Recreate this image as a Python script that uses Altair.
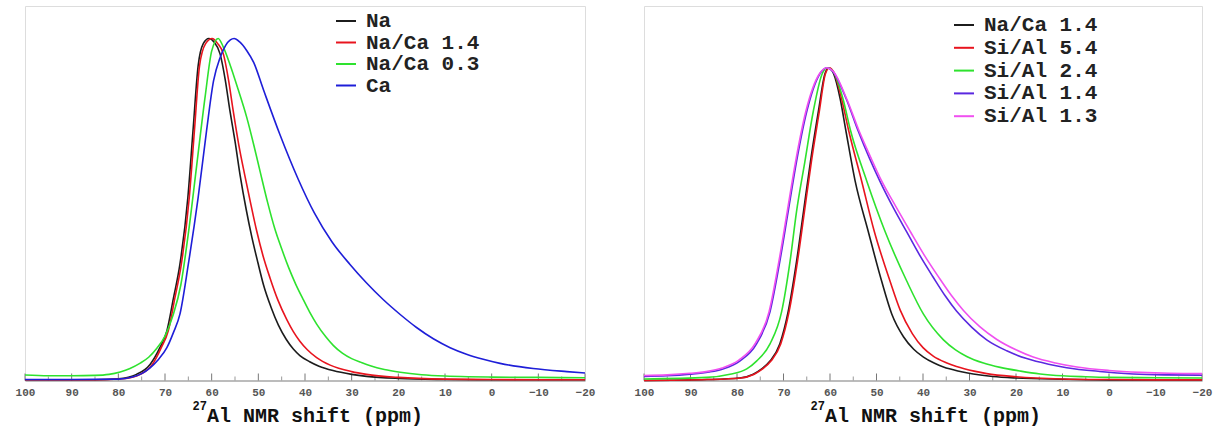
import altair as alt
import pandas as pd

# ---------------- data ----------------
left_names = ["Na", "Na/Ca 1.4", "Na/Ca 0.3", "Ca"]
left_colors = ["#1c1c1c", "#e8141e", "#2ee22e", "#1e1ed8"]

na_ppm = [100, 90, 85, 80, 76.1, 73.2, 71.1, 69.6, 68.2, 66.8, 65.1, 64.0, 62.9, 61.8, 60.6,
          59.5, 58.2, 57.1, 56.1, 55.0, 53.9, 52.6, 51.4, 50.1, 48.9, 47.3, 45.7, 44.0, 42.5, 41.1,
          39.0, 37.0, 34.0, 30, 26.8, 20, 10, 0, -10, -20]
na_int = [0.002, 0.002, 0.002, 0.005, 0.018, 0.047, 0.096, 0.145, 0.24, 0.34, 0.535, 0.73, 0.92, 0.985, 1.0,
          0.99, 0.955, 0.88, 0.79, 0.70, 0.6, 0.5, 0.42, 0.345, 0.28, 0.215, 0.162, 0.12, 0.092, 0.073,
          0.055, 0.042, 0.029, 0.018, 0.012, 0.006, 0.003, 0.002, 0.002, 0.002]

naca14_ppm = [100, 90, 85, 79, 75.3, 72.7, 70.8, 69.3, 67.9, 66.5, 64.8, 63.7, 62.6, 61.3, 59.9,
              58.7, 57.5, 56.4, 55.4, 54.2, 52.9, 51.6, 50.4, 49.0, 47.5, 45.8, 43.9, 42.5, 41.1,
              39.5, 37.5, 34.6, 30, 26.8, 20, 10, 0, -10, -20]
naca14_int = [0.002, 0.002, 0.002, 0.005, 0.018, 0.047, 0.096, 0.145, 0.24, 0.34, 0.535, 0.73, 0.92, 0.985, 1.0,
              0.985, 0.955, 0.88, 0.79, 0.69, 0.6, 0.515, 0.44, 0.365, 0.3, 0.235, 0.178, 0.143, 0.115,
              0.09, 0.067, 0.045, 0.026, 0.018, 0.009, 0.004, 0.003, 0.002, 0.002]

naca03_ppm = [100, 95, 90, 85, 82, 79.6, 77.5, 75.4, 73.5, 71.7, 70.0, 68.3, 66.6, 64.9, 63.2, 61.4, 60.0, 58.6,
              57.5, 56.1, 54.3, 52.5, 51.0, 49.6, 48.0, 46.5, 45.0, 43.5, 42.0, 40.5, 39.0, 37.5, 35.5,
              33.9, 32, 30, 28, 26, 23, 19.6, 15, 10, 5, 0, -10, -20]
naca03_int = [0.016, 0.014, 0.014, 0.015, 0.018, 0.025, 0.035, 0.05, 0.068, 0.095, 0.13, 0.19, 0.28, 0.44, 0.63, 0.83, 0.963, 1.0,
              0.975, 0.925, 0.85, 0.77, 0.69, 0.61, 0.52, 0.445, 0.385, 0.33, 0.282, 0.24, 0.2, 0.165, 0.127,
              0.102, 0.08, 0.064, 0.053, 0.043, 0.032, 0.024, 0.017, 0.013, 0.011, 0.01, 0.009, 0.008]

ca_ppm = [100, 90, 80, 77, 75, 73.2, 71.5, 69.6, 68.2, 66.8, 65.0, 62.9, 61.1, 59.6, 58.2, 57, 56, 55.2,
          54, 52.5, 51.0, 48.9, 45.4, 41.5, 38, 34.2, 30.4, 26.8, 23.2, 19.6, 16.1, 12.5, 8.9, 5.4, 1.8,
          -1.8, -8.9, -16.1, -20]
ca_int = [0.003, 0.003, 0.004, 0.01, 0.02, 0.037, 0.06, 0.096, 0.14, 0.194, 0.34, 0.535, 0.73, 0.876, 0.944, 0.98, 0.996, 1.0,
          0.99, 0.965, 0.93, 0.85, 0.72, 0.59, 0.49, 0.405, 0.34, 0.285, 0.236, 0.193, 0.155, 0.122, 0.096, 0.077, 0.062,
          0.05, 0.035, 0.026, 0.022]

right_names = ["Na/Ca 1.4", "Si/Al 5.4", "Si/Al 2.4", "Si/Al 1.4", "Si/Al 1.3"]
right_colors = ["#1c1c1c", "#e8141e", "#2ee22e", "#5a28e0", "#f050f0"]

r_naca14_ppm = [100, 86.5, 79.4, 76.5, 74.7, 72.9, 70.8, 69.0, 67.2, 65.7, 64.2, 62.5, 61.1, 60.3,
                59.2, 57.8, 56.6, 54.6, 51.8, 48.9, 46.7, 44.2, 42.0, 39.9, 37.5, 35.6, 32.0, 29.2, 25, 20,
                10, 0, -10, -20]
r_naca14_int = [0.0, 0.003, 0.008, 0.02, 0.037, 0.062, 0.117, 0.22, 0.38, 0.54, 0.70, 0.86, 0.98, 1.0,
                0.98, 0.9, 0.8, 0.638, 0.478, 0.318, 0.212, 0.14, 0.1, 0.075, 0.055, 0.043, 0.029, 0.021, 0.013, 0.008,
                0.004, 0.002, 0.002, 0.002]

sial54_ppm = [100, 86.3, 79.2, 76.3, 74.5, 72.7, 70.6, 68.8, 67.0, 65.5, 64.0, 62.3, 61.0, 60.1,
              59.0, 57.5, 56.0, 53.2, 50.5, 47.1, 44.9, 42.3, 40.0, 37.8, 35.0, 32.8, 29.0, 26.3, 20,
              10, 0, -10, -20]
sial54_int = [0.0, 0.003, 0.008, 0.02, 0.037, 0.062, 0.117, 0.22, 0.38, 0.54, 0.70, 0.86, 0.98, 1.0,
              0.98, 0.9, 0.8, 0.638, 0.478, 0.318, 0.225, 0.15, 0.105, 0.078, 0.057, 0.045, 0.03, 0.022, 0.012,
              0.005, 0.003, 0.002, 0.002]

sial24_ppm = [100, 86.5, 81.5, 77.9, 75.8, 72.9, 70.4, 68.6, 67.2, 65.4, 63.6, 61.7, 60.6,
              59.2, 57.2, 55.6, 52.1, 48.2, 43.5, 39.9, 35.6, 33.0, 30.6, 27.0, 23.4, 19.0, 14.8, 10,
              5, 0, -10, -20]
sial24_int = [0.005, 0.01, 0.02, 0.037, 0.062, 0.117, 0.22, 0.38, 0.54, 0.70, 0.86, 0.98, 1.0,
              0.985, 0.9, 0.8, 0.638, 0.478, 0.318, 0.212, 0.13, 0.098, 0.077, 0.056, 0.042, 0.03, 0.021, 0.015,
              0.012, 0.01, 0.009, 0.008]

sial14_ppm = [100, 95, 90.1, 86, 83.0, 79.4, 75.8, 72.9, 70.8, 69.0, 67.2, 65.0, 62.2, 60.7,
              59.5, 56.5, 54.0, 51.5, 49.2, 46.3, 43.5, 40.5, 37.8, 35.2, 32.8, 29.5, 26.3, 22.0, 17.7,
              13.0, 9.1, 2, -5.2, -12, -20]
sial14_int = [0.013, 0.015, 0.02, 0.027, 0.037, 0.062, 0.117, 0.22, 0.38, 0.54, 0.70, 0.86, 0.98, 1.0,
              0.99, 0.9, 0.8, 0.71, 0.635, 0.55, 0.475, 0.395, 0.33, 0.27, 0.222, 0.17, 0.13, 0.095, 0.07,
              0.052, 0.041, 0.029, 0.021, 0.018, 0.017]

sial13_ppm = [100, 95, 90.1, 86, 83.2, 79.6, 76.0, 73.1, 71.0, 69.2, 67.4, 65.2, 62.3, 60.7,
              59.4, 56.4, 53.8, 51.3, 48.9, 45.8, 42.8, 39.7, 36.7, 34.0, 31.3, 27.8, 24.2, 20.0, 16.3,
              11.5, 6.9, 0, -6.7, -13, -20]
sial13_int = [0.016, 0.018, 0.023, 0.03, 0.04, 0.065, 0.12, 0.22, 0.38, 0.54, 0.70, 0.86, 0.98, 1.0,
              0.99, 0.9, 0.8, 0.715, 0.638, 0.555, 0.478, 0.4, 0.332, 0.274, 0.224, 0.172, 0.132, 0.098, 0.075,
              0.056, 0.043, 0.032, 0.026, 0.023, 0.022]

major_ticks = [100, 90, 80, 70, 60, 50, 40, 30, 20, 10, 0, -10, -20]
minor_ticks = [95, 85, 75, 65, 55, 45, 35, 25, 15, 5, -5, -15]
x_title = "Al NMR shift (ppm)"
x_title_sup = "27"

# ---------------- build tables ----------------
def table(pairs):
    rows = []
    for name, xs, ys in pairs:
        for a, b in zip(xs, ys):
            rows.append({"series": name, "ppm": a, "intensity": b})
    return pd.DataFrame(rows)

left_df = table([("Na", na_ppm, na_int), ("Na/Ca 1.4", naca14_ppm, naca14_int),
                 ("Na/Ca 0.3", naca03_ppm, naca03_int), ("Ca", ca_ppm, ca_int)])
right_df = table([("Na/Ca 1.4", r_naca14_ppm, r_naca14_int), ("Si/Al 5.4", sial54_ppm, sial54_int),
                  ("Si/Al 2.4", sial24_ppm, sial24_int), ("Si/Al 1.4", sial14_ppm, sial14_int),
                  ("Si/Al 1.3", sial13_ppm, sial13_int)])

FONT = "Liberation Mono"
H = 374.5


def panel(df, names, colors, width, ymax, legx, legy, rowpad):
    xscale = alt.Scale(domain=[-20, 100], reverse=True, nice=False)
    xaxis = alt.Axis(values=major_ticks, grid=False, ticks=False, tickSize=0, title=None,
                     labelFont=FONT, labelFontWeight="bold", labelFontSize=11, labelColor="#555555",
                     labelFlush=False, labelPadding=6, domainColor="#8a8a8a", domainWidth=1.2,
                     labelOverlap=False)
    lines = alt.Chart(df).mark_line(strokeWidth=1.6, interpolate="monotone").encode(
        x=alt.X("ppm:Q", scale=xscale, axis=xaxis),
        y=alt.Y("intensity:Q", scale=alt.Scale(domain=[0, ymax], nice=False, zero=True), axis=None),
        color=alt.Color("series:N", sort=names,
                        scale=alt.Scale(domain=names, range=colors),
                        legend=alt.Legend(title=None, orient="none", legendX=legx, legendY=legy,
                                          symbolType="stroke", symbolSize=400, symbolStrokeWidth=2,
                                          labelFont=FONT, labelFontWeight="bold", labelFontSize=21,
                                          labelColor="#222222", labelOffset=9, rowPadding=rowpad,
                                          padding=0, labelLimit=400)),
        detail="series:N",
    )
    maj = alt.Chart(pd.DataFrame({"t": major_ticks})).mark_rule(color="#777777", strokeWidth=1).encode(
        x=alt.X("t:Q", scale=xscale), y=alt.value(H - 7), y2=alt.value(H))
    mnr = alt.Chart(pd.DataFrame({"t": minor_ticks})).mark_rule(color="#999999", strokeWidth=1).encode(
        x=alt.X("t:Q", scale=xscale), y=alt.value(H - 4), y2=alt.value(H))
    tx = width / 2 - 98
    title = alt.Chart(pd.DataFrame({"t": [x_title]})).mark_text(
        align="left", baseline="alphabetic", font=FONT, fontWeight="bold", fontSize=20, color="#111111"
    ).encode(x=alt.value(tx), y=alt.value(416), text="t:N")
    sup = alt.Chart(pd.DataFrame({"t": [x_title_sup]})).mark_text(
        align="right", baseline="alphabetic", font=FONT, fontWeight="bold", fontSize=12, color="#111111"
    ).encode(x=alt.value(tx), y=alt.value(404), text="t:N")
    return alt.layer(mnr, maj, lines, title, sup).properties(width=width, height=H)


left = panel(left_df, left_names, left_colors, 560, 374.5 / 342, 310, 4, 0.5)
right = panel(right_df, right_names, right_colors, 558, 374.5 / 312.8, 309, 8, 1.8)

chart = alt.hconcat(left, right, spacing=59, bounds="flush").resolve_scale(
    color="independent", x="independent", y="independent"
).resolve_legend(color="independent").properties(
    padding={"left": 14, "top": 5, "right": 5, "bottom": 0}
).configure_view(strokeWidth=0).configure(background="white")

chart.save("out.html", embed_options={"renderer": "svg", "actions": False})
